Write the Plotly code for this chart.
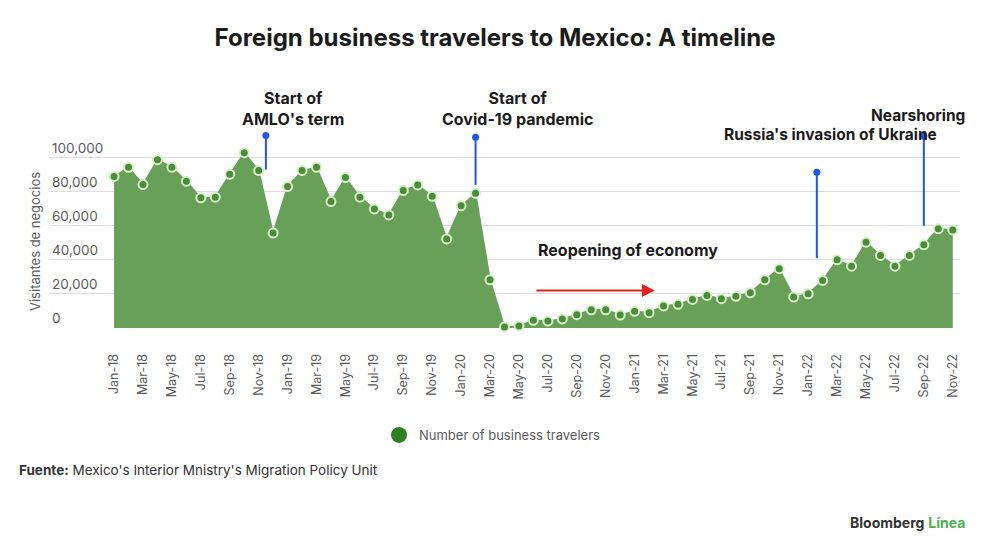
import plotly.graph_objects as go

months = ["Jan-18","Feb-18","Mar-18","Apr-18","May-18","Jun-18","Jul-18","Aug-18","Sep-18","Oct-18","Nov-18","Dec-18",
          "Jan-19","Feb-19","Mar-19","Apr-19","May-19","Jun-19","Jul-19","Aug-19","Sep-19","Oct-19","Nov-19","Dec-19",
          "Jan-20","Feb-20","Mar-20","Apr-20","May-20","Jun-20","Jul-20","Aug-20","Sep-20","Oct-20","Nov-20","Dec-20",
          "Jan-21","Feb-21","Mar-21","Apr-21","May-21","Jun-21","Jul-21","Aug-21","Sep-21","Oct-21","Nov-21","Dec-21",
          "Jan-22","Feb-22","Mar-22","Apr-22","May-22","Jun-22","Jul-22","Aug-22","Sep-22","Oct-22","Nov-22"]

travelers = [89000, 94300, 84200, 98800, 94300, 86100, 76400, 76800, 90200, 102900, 92400, 55700,
             83000, 92400, 94300, 74200, 88300, 76800, 69900, 66400, 80700, 84000, 77300, 52300,
             71700, 79100, 28300, 600, 1200, 4500, 4100, 5300, 7800, 10700, 10700, 7600,
             9800, 9000, 12900, 13900, 16800, 19100, 17200, 18600, 20700, 28300, 34800, 18200,
             20100, 27900, 40000, 36300, 50400, 42600, 36300, 42600, 48800, 58200, 57600]

tick_labels = months[::2]
y_ticks = [0, 20000, 40000, 60000, 80000, 100000]

# events: month label, offset within month, line top value, line bottom value
event_months = ["Nov-18", "Feb-20", "Jan-22", "Sep-22"]
event_offsets = [0.5, 0.0, 0.6, 0.0]
event_tops = [113000, 112000, 91500, 112500]
event_bottoms = [93000, 84000, 41000, 60000]

GREEN_FILL = "#689f59"
GREEN_DOT = "#4c8b3e"
GREEN_RING = "#d6f0c6"
BLUE = "#2456e0"
TXT = "#1b1b1b"
GRAY = "#5a5a5a"
FONT = "Inter"

# plot-area geometry in pixels (used to place paper-referenced texts)
L, R, T, B = 49, 40, 127, 227
PW = 1000 - L - R
PH = 555 - T - B
def px(xp):
    return (xp - L) / PW
def py(yp):
    return (555 - B - yp) / PH

idx = {m: i for i, m in enumerate(months)}
xs = [idx[m] for m in months]

fig = go.Figure()
fig.add_trace(go.Scatter(
    x=xs, y=travelers, mode="lines+markers", fill="tozeroy",
    fillcolor=GREEN_FILL, line=dict(color=GREEN_FILL, width=1.5),
    marker=dict(size=9, color=GREEN_DOT, line=dict(color=GREEN_RING, width=2)),
    cliponaxis=False, showlegend=False, text=months, hovertemplate="%{text}: %{y:,}<extra></extra>"))
fig.add_trace(go.Scatter(
    x=[None], y=[None], mode="markers", name="Number of business travelers",
    marker=dict(size=16, color="#2f7d24")))

ev_x = [idx[m] + off for m, off in zip(event_months, event_offsets)]
for xv, top, bot in zip(ev_x, event_tops, event_bottoms):
    fig.add_shape(type="line", xref="x", yref="y", x0=xv, x1=xv, y0=bot, y1=top,
                  line=dict(color=BLUE, width=2))
fig.add_trace(go.Scatter(x=ev_x, y=event_tops, mode="markers", cliponaxis=False,
                         marker=dict(size=7, color=BLUE), showlegend=False, hoverinfo="skip"))

def lbl(text, xp, yp, size=16):
    fig.add_annotation(x=px(xp), y=py(yp), xref="paper", yref="paper", text=text, showarrow=False,
                       xanchor="center", yanchor="middle",
                       font=dict(family=FONT, size=size, color=TXT), align="center")

lbl("<b>Start of<br>AMLO's term</b>", 293, 108)
lbl("<b>Start of<br>Covid-19 pandemic</b>", 517, 108)
lbl("<b>Nearshoring</b>", 918, 115, size=15.5)
lbl("<b>Russia's invasion of Ukraine</b>", 830, 134.5, size=15.5)
lbl("<b>Reopening of economy</b>", 628, 250)

fig.add_annotation(x=idx["Mar-21"] - 0.6, y=22000, ax=idx["Jun-20"] + 0.1, ay=22000,
                   xref="x", yref="y", axref="x", ayref="y", text="", showarrow=True,
                   arrowhead=2, arrowsize=1.3, arrowwidth=2, arrowcolor="#e2231a")

fig.add_annotation(x=px(35), y=py(242), xref="paper", yref="paper", text="Visitantes de negocios",
                   textangle=-90, showarrow=False, xanchor="center", yanchor="middle",
                   font=dict(family=FONT, size=13, color=GRAY))

fig.add_annotation(x=px(17), y=py(470), xref="paper", yref="paper",
                   text="<b>Fuente:</b> Mexico's Interior Mnistry's Migration Policy Unit",
                   showarrow=False, xanchor="left", yanchor="middle",
                   font=dict(family=FONT, size=13.5, color="#333333"))
fig.add_annotation(x=px(967), y=py(522), xref="paper", yref="paper",
                   text="<b>Bloomberg</b> <span style='color:#4caf50'><b>Línea</b></span>",
                   showarrow=False, xanchor="right", yanchor="middle",
                   font=dict(family=FONT, size=14, color="#333333"))

fig.update_layout(
    width=1000, height=555, paper_bgcolor="white", plot_bgcolor="white",
    margin=dict(l=L, r=R, t=T, b=B),
    title=dict(text="<b>Foreign business travelers to Mexico: A timeline</b>", x=0.495, xanchor="center",
               y=1 - 38 / 555, yanchor="middle", font=dict(family=FONT, size=24, color=TXT)),
    font=dict(family=FONT, color=GRAY),
    showlegend=True,
    legend=dict(orientation="h", x=px(379), xanchor="left", y=py(435), yanchor="middle",
                font=dict(family=FONT, size=13, color=GRAY), bgcolor="rgba(0,0,0,0)"),
    xaxis=dict(range=[-4.5, 58.5], tickmode="array", tickvals=[idx[m] for m in tick_labels],
               ticktext=tick_labels, tickangle=-90, ticks="outside", ticklen=20, tickcolor="rgba(0,0,0,0)",
               showgrid=False, showline=False, zeroline=False,
               tickfont=dict(family=FONT, size=12.5, color=GRAY)),
    yaxis=dict(range=[0, 118000], tickvals=y_ticks, tickformat=",", ticklabelposition="inside top",
               showgrid=True, gridcolor="#dcdcdc", gridwidth=1, zeroline=False, showline=False,
               tickfont=dict(family=FONT, size=13.5, color=GRAY)),
)

fig.write_html("out.html", config={"displayModeBar": False},
               post_script="document.body.style.margin='0';")
